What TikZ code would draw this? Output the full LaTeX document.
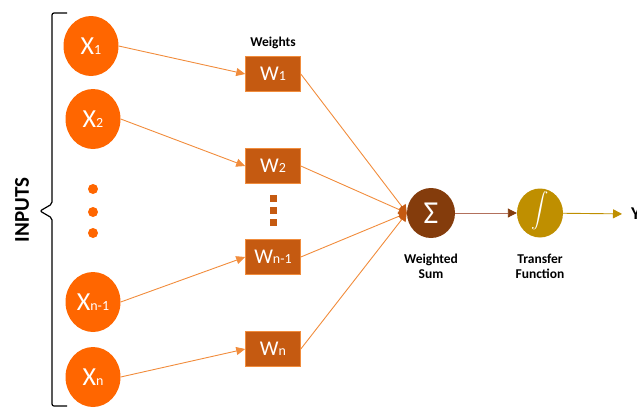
\documentclass[tikz,border=0pt]{standalone}
\usepackage{fontspec}
\setmainfont{Carlito}
\usepackage{amsmath}
\usepackage{tikz}
\usetikzlibrary{positioning,arrows.meta,shapes.geometric}

\definecolor{inputorange}{RGB}{255,102,0}
\definecolor{weightbrown}{RGB}{197,90,17}
\definecolor{linkorange}{RGB}{241,140,60}
\definecolor{sumbrown}{RGB}{132,60,12}
\definecolor{sumlinkcol}{RGB}{178,112,92}
\definecolor{transgold}{RGB}{191,143,0}

\newcommand{\idx}[1]{{\fontsize{14}{14}\selectfont #1}}

\begin{document}
\begin{tikzpicture}
  [x=1pt,y=-1pt,
   inputnode/.style={ellipse,fill=inputorange,text=white,minimum width=55pt,minimum height=60pt,inner sep=0pt,font=\fontsize{26}{26}\selectfont},
   weightbox/.style={rectangle,fill=weightbrown,draw=linkorange,line width=.6pt,text=white,minimum width=55pt,minimum height=35pt,inner sep=0pt,font=\fontsize{21}{21}\selectfont},
   caption/.style={align=center,font=\bfseries\fontsize{13.5}{15.5}\selectfont},
   inlink/.style={draw=linkorange,line width=.9pt,-{Triangle[length=9pt,width=8pt]}},
   sumlink/.style={draw=linkorange,line width=.9pt,-{Triangle[length=8pt,width=9pt,color=weightbrown]}}]
  \useasboundingbox (0,0) rectangle (637,410);

  % inputs
  \node[inputnode] (x1) at (91,46)  {X\idx{1}};
  \node[inputnode] (x2) at (93,119) {X\idx{2}};
  \node[inputnode] (xn1) at (93,302) {X\idx{n-1}};
  \node[inputnode] (xn) at (93,377) {X\idx{n}};
  \foreach \y [count=\i] in {189,212,233}
    \node[circle,fill=inputorange,minimum size=10pt,inner sep=0pt] (xdot\i) at (93,\y) {};

  % brace
  \coordinate (bracetip) at (40,211);
  \draw[line width=1.2pt,rounded corners=2pt] (67,13) -| (52,204) -- (bracetip) -- (52,218) |- (67,406);
  \node[rotate=90,font=\bfseries\fontsize{21}{21}\selectfont] (inputs) at (22,210) {INPUTS};

  % weights
  \node[weightbox] (w1) at (273,74)  {W\idx{1}};
  \node[weightbox] (w2) at (273,166) {W\idx{2}};
  \node[weightbox] (wn1) at (273,257) {W\idx{n-1}};
  \node[weightbox] (wn) at (273,349) {W\idx{n}};
  \foreach \y [count=\i] in {198,210,222}
    \node[rectangle,fill=weightbrown,minimum size=7pt,inner sep=0pt] (wdot\i) at (273,\y) {};
  \node[caption,above=4pt of w1] (wlabel) {Weights};

  % sum and transfer
  \node[ellipse,fill=sumbrown,text=white,minimum width=48pt,minimum height=50pt,inner sep=0pt,font=\fontsize{32}{32}\selectfont] (sum) at (431,213) {Σ};
  \node[ellipse,fill=transgold,text=white,minimum width=46pt,minimum height=49pt,inner sep=0pt,font=\fontsize{19}{19}\selectfont] (tf) at (540,213) {\raisebox{-5pt}{$\smash{\displaystyle\int}$}};
  \node[caption,below=12pt of sum] (sumlabel) {Weighted\\Sum};
  \node[caption] (tflabel) at (tf |- sumlabel) {Transfer\\Function};
  \node[anchor=west,inner sep=0pt,font=\bfseries\fontsize{18}{18}\selectfont] (yout) at (631,214) {Y};

  \draw[inlink] (x1.east) -- (w1.west);
  \draw[inlink] (x2.east) -- (w2.west);
  \draw[inlink] (xn1.east) -- (wn1.west);
  \draw[inlink] (xn.east) -- (wn.west);

  \draw[sumlink] (w1.east) -- (sum.west);
  \draw[sumlink] (w2.east) -- (sum.west);
  \draw[sumlink] (wn1.east) -- (sum.west);
  \draw[sumlink] (wn.east) -- (sum.west);

  \draw[draw=sumlinkcol,line width=.9pt,-{Triangle[length=9pt,width=9pt,color=sumbrown]}] (sum) -- (tf);
  \draw[draw=transgold,line width=.9pt,shorten >=9pt,-{Triangle[length=9pt,width=9pt]}] (tf) -- (yout.west);
\end{tikzpicture}
\end{document}
